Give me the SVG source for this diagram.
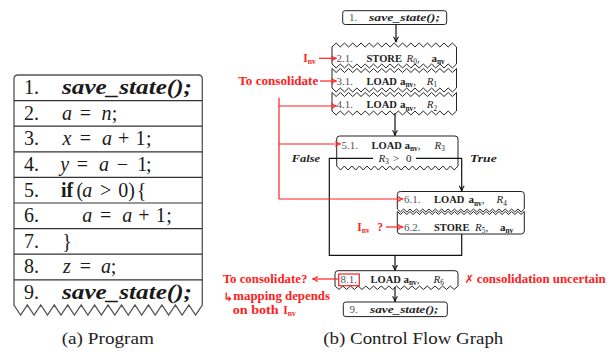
<svg xmlns="http://www.w3.org/2000/svg" width="615" height="354" viewBox="0 0 615 354">
<defs>
<style>
.code{font-family:"Liberation Serif","Times New Roman",serif;font-size:20px;fill:#1a1a1a}
.it{font-style:italic}
.bd{font-weight:bold}
.kw{font-weight:bold;font-size:10.5px}
.bi{font-weight:bold;font-style:italic}
.tbl{fill:#fff;stroke:#555;stroke-width:1.3}
.sep{fill:none;stroke:#333;stroke-width:1.2}
.box{fill:#fff;stroke:#222;stroke-width:1}
.ct{font-family:"Liberation Serif","Times New Roman",serif;font-size:11px;fill:#222}
.num{fill:#555}
.sub{font-size:7.3px}
.edge{fill:none;stroke:#111;stroke-width:1.2}
.redl{fill:none;stroke:#ff2020;stroke-width:1.2}
.rt{font-family:"Liberation Serif","Times New Roman",serif;font-size:11.5px;font-weight:bold;fill:#ff2020}
.rs{font-size:7.5px}
.sym{font-family:"DejaVu Sans",sans-serif}
.cap{font-family:"Liberation Serif","Times New Roman",serif;font-size:17px;fill:#222}
</style>
<marker id="arr" viewBox="0 0 10 10" refX="9" refY="5" markerWidth="7" markerHeight="7" markerUnits="userSpaceOnUse" orient="auto">
<path d="M1.5,1.5 Q5,4 9,5 Q5,6 1.5,8.5" fill="none" stroke="#111" stroke-width="1.6"/>
</marker>
<marker id="arrR" viewBox="0 0 10 10" refX="9" refY="5" markerWidth="7" markerHeight="7" markerUnits="userSpaceOnUse" orient="auto">
<path d="M1.5,1.5 Q5,4 9,5 Q5,6 1.5,8.5" fill="none" stroke="#ff2020" stroke-width="1.6"/>
</marker>
</defs>
<rect width="615" height="354" fill="#fff"/>

<!-- (a) Program table -->
<g id="program">
<path class="tbl" d="M14,306 V79 Q14,75 18,75 H198.3 Q202.3,75 202.3,79 V305 l-6.73,10 l-6.73,-10 l-6.73,10 l-6.73,-10 l-6.73,10 l-6.73,-10 l-6.73,10 l-6.73,-10 l-6.73,10 l-6.73,-10 l-6.73,10 l-6.73,-10 l-6.73,10 l-6.73,-10 l-6.73,10 l-6.73,-10 l-6.73,10 l-6.73,-10 l-6.73,10 l-6.73,-10 l-6.73,10 l-6.73,-10 l-6.73,10 l-6.73,-10 l-6.73,10 l-6.73,-10 l-6.73,10 l-6.73,-10 Z"/>
<path class="sep" d="M14,100.6H202.3 M14,126.2H202.3 M14,151.8H202.3 M14,177.4H202.3 M14,203H202.3 M14,228.6H202.3 M14,254.2H202.3 M14,279.8H202.3"/>
<g id="row1"><text class="code" x="24" y="94.2">1.</text><text class="code bi" x="62" y="94.2" textLength="130" lengthAdjust="spacingAndGlyphs">save_state();</text></g>
<g id="row2"><text class="code" x="24" y="119.8">2.</text><text class="code" y="119.8" text-anchor="middle"><tspan x="67" class="it">a</tspan><tspan x="85.4">=</tspan><tspan x="106.5" class="it">n</tspan><tspan x="114.5">;</tspan></text></g>
<g id="row3"><text class="code" x="24" y="145.4">3.</text><text class="code" y="145.4" text-anchor="middle"><tspan x="67" class="it">x</tspan><tspan x="85.4">=</tspan><tspan x="107" class="it">a</tspan><tspan x="123.7">+</tspan><tspan x="140.4">1</tspan><tspan x="148.7">;</tspan></text></g>
<g id="row4"><text class="code" x="24" y="171">4.</text><text class="code" y="171" text-anchor="middle"><tspan x="64.8" class="it">y</tspan><tspan x="82.3">=</tspan><tspan x="104" class="it">a</tspan><tspan x="122.3">−</tspan><tspan x="142.3">1</tspan><tspan x="148.8">;</tspan></text></g>
<g id="row5"><text class="code" x="24" y="196.6">5.</text><text class="code" y="196.6" text-anchor="middle"><tspan x="67" class="bd">if</tspan><tspan x="79.8">(</tspan><tspan x="87.3" class="it">a</tspan><tspan x="105.7">&gt;</tspan><tspan x="123.2">0</tspan><tspan x="131.5">)</tspan><tspan x="141.5">{</tspan></text></g>
<g id="row6"><text class="code" x="24" y="222.2">6.</text><text class="code" y="222.2" text-anchor="middle"><tspan x="87.3" class="it">a</tspan><tspan x="105.7">=</tspan><tspan x="127.3" class="it">a</tspan><tspan x="144">+</tspan><tspan x="160.7">1</tspan><tspan x="169">;</tspan></text></g>
<g id="row7"><text class="code" x="24" y="247.8">7.</text><text class="code" y="247.8" text-anchor="middle"><tspan x="67">}</tspan></text></g>
<g id="row8"><text class="code" x="24" y="273.4">8.</text><text class="code" y="273.4" text-anchor="middle"><tspan x="66.8" class="it">z</tspan><tspan x="85.4">=</tspan><tspan x="106" class="it">a</tspan><tspan x="113.5">;</tspan></text></g>
<g id="row9"><text class="code" x="24" y="299">9.</text><text class="code bi" x="62" y="299" textLength="130" lengthAdjust="spacingAndGlyphs">save_state();</text></g>
</g>
<text class="cap" x="61.7" y="343.5" textLength="92.3" lengthAdjust="spacingAndGlyphs">(a) Program</text>

<!-- (b) CFG nodes -->
<g id="n1">
<rect class="box" x="342.7" y="10.7" width="104" height="13.8" rx="2.5"/>
<text class="ct num" x="349" y="21.2">1.</text>
<text class="ct bi" x="369" y="21.2" font-size="11.5" textLength="71" lengthAdjust="spacingAndGlyphs">save_state();</text>
</g>
<g id="n2_1">
<path class="box" d="M332,47 l4.15,-4 l4.15,4 l4.15,-4 l4.15,4 l4.15,-4 l4.15,4 l4.15,-4 l4.15,4 l4.15,-4 l4.15,4 l4.15,-4 l4.15,4 l4.15,-4 l4.15,4 l4.15,-4 l4.15,4 l4.15,-4 l4.15,4 l4.15,-4 l4.15,4 l4.15,-4 l4.15,4 l4.15,-4 l4.15,4 l4.15,-4 l4.15,4 l4.15,-4 l4.15,4 l4.15,-4 l4.15,4 V64 l-4.15,4 l-4.15,-4 l-4.15,4 l-4.15,-4 l-4.15,4 l-4.15,-4 l-4.15,4 l-4.15,-4 l-4.15,4 l-4.15,-4 l-4.15,4 l-4.15,-4 l-4.15,4 l-4.15,-4 l-4.15,4 l-4.15,-4 l-4.15,4 l-4.15,-4 l-4.15,4 l-4.15,-4 l-4.15,4 l-4.15,-4 l-4.15,4 l-4.15,-4 l-4.15,4 l-4.15,-4 l-4.15,4 l-4.15,-4 l-4.15,4 l-4.15,-4 Z"/>
<text class="ct" y="61.5"><tspan x="336.5" class="num">2.1.</tspan><tspan x="366.5" class="kw">STORE</tspan><tspan x="406.5" class="it">R</tspan><tspan class="sub" dy="2.5">0</tspan><tspan dy="-2.5">,</tspan><tspan x="431.5" class="bd">a</tspan><tspan class="sub bd" dy="2.5">nv</tspan></text>
</g>
<g id="n3_1">
<path class="box" d="M332,68.5 l4.15,4 l4.15,-4 l4.15,4 l4.15,-4 l4.15,4 l4.15,-4 l4.15,4 l4.15,-4 l4.15,4 l4.15,-4 l4.15,4 l4.15,-4 l4.15,4 l4.15,-4 l4.15,4 l4.15,-4 l4.15,4 l4.15,-4 l4.15,4 l4.15,-4 l4.15,4 l4.15,-4 l4.15,4 l4.15,-4 l4.15,4 l4.15,-4 l4.15,4 l4.15,-4 l4.15,4 l4.15,-4 V88 l-4.15,4 l-4.15,-4 l-4.15,4 l-4.15,-4 l-4.15,4 l-4.15,-4 l-4.15,4 l-4.15,-4 l-4.15,4 l-4.15,-4 l-4.15,4 l-4.15,-4 l-4.15,4 l-4.15,-4 l-4.15,4 l-4.15,-4 l-4.15,4 l-4.15,-4 l-4.15,4 l-4.15,-4 l-4.15,4 l-4.15,-4 l-4.15,4 l-4.15,-4 l-4.15,4 l-4.15,-4 l-4.15,4 l-4.15,-4 l-4.15,4 l-4.15,-4 Z"/>
<text class="ct" y="84.5"><tspan x="336.5" class="num">3.1.</tspan><tspan x="366.5" class="kw">LOAD</tspan><tspan x="400" class="bd">a</tspan><tspan class="sub bd" dy="2.5">nv</tspan><tspan dy="-2.5">,</tspan><tspan x="426.7" class="it">R</tspan><tspan class="sub" dy="2.5">1</tspan></text>
</g>
<g id="n4_1">
<path class="box" d="M332,92.5 l4.15,4 l4.15,-4 l4.15,4 l4.15,-4 l4.15,4 l4.15,-4 l4.15,4 l4.15,-4 l4.15,4 l4.15,-4 l4.15,4 l4.15,-4 l4.15,4 l4.15,-4 l4.15,4 l4.15,-4 l4.15,4 l4.15,-4 l4.15,4 l4.15,-4 l4.15,4 l4.15,-4 l4.15,4 l4.15,-4 l4.15,4 l4.15,-4 l4.15,4 l4.15,-4 l4.15,4 l4.15,-4 V111 l-4.15,4 l-4.15,-4 l-4.15,4 l-4.15,-4 l-4.15,4 l-4.15,-4 l-4.15,4 l-4.15,-4 l-4.15,4 l-4.15,-4 l-4.15,4 l-4.15,-4 l-4.15,4 l-4.15,-4 l-4.15,4 l-4.15,-4 l-4.15,4 l-4.15,-4 l-4.15,4 l-4.15,-4 l-4.15,4 l-4.15,-4 l-4.15,4 l-4.15,-4 l-4.15,4 l-4.15,-4 l-4.15,4 l-4.15,-4 l-4.15,4 l-4.15,-4 Z"/>
<text class="ct" y="108"><tspan x="336.5" class="num">4.1.</tspan><tspan x="366.5" class="kw">LOAD</tspan><tspan x="400" class="bd">a</tspan><tspan class="sub bd" dy="2.5">nv</tspan><tspan dy="-2.5">,</tspan><tspan x="426.7" class="it">R</tspan><tspan class="sub" dy="2.5">2</tspan></text>
</g>
<g id="n5_1">
<path class="box" d="M336.7,166 V139 Q336.7,136 339.7,136 H455 Q458,136 458,139 V166 l-3.79,4 l-3.79,-4 l-3.79,4 l-3.79,-4 l-3.79,4 l-3.79,-4 l-3.79,4 l-3.79,-4 l-3.79,4 l-3.79,-4 l-3.79,4 l-3.79,-4 l-3.79,4 l-3.79,-4 l-3.79,4 l-3.79,-4 l-3.79,4 l-3.79,-4 l-3.79,4 l-3.79,-4 l-3.79,4 l-3.79,-4 l-3.79,4 l-3.79,-4 l-3.79,4 l-3.79,-4 l-3.79,4 l-3.79,-4 l-3.79,4 l-3.79,-4 l-3.79,4 l-3.79,-4 Z"/>
<text class="ct" y="148.5"><tspan x="341.5" class="num">5.1.</tspan><tspan x="371.5" class="kw">LOAD</tspan><tspan x="404.5" class="bd">a</tspan><tspan class="sub bd" dy="2.5">nv</tspan><tspan dy="-2.5">,</tspan><tspan x="434.5" class="it">R</tspan><tspan class="sub" dy="2.5">3</tspan></text>
<text class="ct" y="161.5"><tspan x="378.5" class="it">R</tspan><tspan class="sub" dy="2.5">3</tspan><tspan x="393" dy="-2.5">&gt;</tspan><tspan x="406">0</tspan></text>
</g>
<g id="n6_1">
<path class="box" d="M397.3,209 V194.5 Q397.3,191.5 400.3,191.5 H521.3 Q524.3,191.5 524.3,194.5 V209 l-3.175,3 l-3.175,-3 l-3.175,3 l-3.175,-3 l-3.175,3 l-3.175,-3 l-3.175,3 l-3.175,-3 l-3.175,3 l-3.175,-3 l-3.175,3 l-3.175,-3 l-3.175,3 l-3.175,-3 l-3.175,3 l-3.175,-3 l-3.175,3 l-3.175,-3 l-3.175,3 l-3.175,-3 l-3.175,3 l-3.175,-3 l-3.175,3 l-3.175,-3 l-3.175,3 l-3.175,-3 l-3.175,3 l-3.175,-3 l-3.175,3 l-3.175,-3 l-3.175,3 l-3.175,-3 l-3.175,3 l-3.175,-3 l-3.175,3 l-3.175,-3 l-3.175,3 l-3.175,-3 l-3.175,3 l-3.175,-3 Z"/>
<text class="ct" y="203"><tspan x="404" class="num">6.1.</tspan><tspan x="434" class="kw">LOAD</tspan><tspan x="468.5" class="bd">a</tspan><tspan class="sub bd" dy="2.5">nv</tspan><tspan dy="-2.5">,</tspan><tspan x="496.5" class="it">R</tspan><tspan class="sub" dy="2.5">4</tspan></text>
</g>
<g id="n6_2">
<path class="box" d="M397.3,211.5 l3.175,3 l3.175,-3 l3.175,3 l3.175,-3 l3.175,3 l3.175,-3 l3.175,3 l3.175,-3 l3.175,3 l3.175,-3 l3.175,3 l3.175,-3 l3.175,3 l3.175,-3 l3.175,3 l3.175,-3 l3.175,3 l3.175,-3 l3.175,3 l3.175,-3 l3.175,3 l3.175,-3 l3.175,3 l3.175,-3 l3.175,3 l3.175,-3 l3.175,3 l3.175,-3 l3.175,3 l3.175,-3 l3.175,3 l3.175,-3 l3.175,3 l3.175,-3 l3.175,3 l3.175,-3 l3.175,3 l3.175,-3 l3.175,3 l3.175,-3 V231 Q524.3,234 521.3,234 H400.3 Q397.3,234 397.3,231 Z"/>
<text class="ct" y="230.5"><tspan x="404" class="num">6.2.</tspan><tspan x="434" class="kw">STORE</tspan><tspan x="475" class="it">R</tspan><tspan class="sub" dy="2.5">5</tspan><tspan dy="-2.5">,</tspan><tspan x="500" class="bd">a</tspan><tspan class="sub bd" dy="2.5">nv</tspan></text>
</g>
<g id="n8_1">
<path class="box" d="M335,286 V273.7 Q335,270.7 338,270.7 H455 Q458,270.7 458,273.7 V286 l-3.84,3.5 l-3.84,-3.5 l-3.84,3.5 l-3.84,-3.5 l-3.84,3.5 l-3.84,-3.5 l-3.84,3.5 l-3.84,-3.5 l-3.84,3.5 l-3.84,-3.5 l-3.84,3.5 l-3.84,-3.5 l-3.84,3.5 l-3.84,-3.5 l-3.84,3.5 l-3.84,-3.5 l-3.84,3.5 l-3.84,-3.5 l-3.84,3.5 l-3.84,-3.5 l-3.84,3.5 l-3.84,-3.5 l-3.84,3.5 l-3.84,-3.5 l-3.84,3.5 l-3.84,-3.5 l-3.84,3.5 l-3.84,-3.5 l-3.84,3.5 l-3.84,-3.5 l-3.84,3.5 l-3.84,-3.5 Z"/>
<text class="ct" y="282.5"><tspan x="340.5" class="num">8.1.</tspan><tspan x="370.5" class="kw">LOAD</tspan><tspan x="403.5" class="bd">a</tspan><tspan class="sub bd" dy="2.5">nv</tspan><tspan dy="-2.5">,</tspan><tspan x="433.5" class="it">R</tspan><tspan class="sub" dy="2.5">6</tspan></text>
</g>
<g id="n9">
<rect class="box" x="343.3" y="302" width="104" height="14.6" rx="2.5"/>
<text class="ct num" x="349.5" y="313">9.</text>
<text class="ct bi" x="370" y="313" font-size="11.5" textLength="68.5" lengthAdjust="spacingAndGlyphs">save_state();</text>
</g>

<!-- connectors -->
<g id="connectors">
<path class="edge" d="M396,24.5 V42" marker-end="url(#arr)"/>
<path class="edge" d="M395,113 V135.5" marker-end="url(#arr)"/>
<path class="edge" d="M416,158.3 H461.7 V191" marker-end="url(#arr)"/>
<path class="edge" d="M373,158.3 H329.3 V255.3 H461.7 V234"/>
<path class="edge" d="M395,255.3 V270.3" marker-end="url(#arr)"/>
<path class="edge" d="M395,287 V301.5" marker-end="url(#arr)"/>
<text class="ct bi" x="291.7" y="161.8" font-size="11.5" textLength="28.3" lengthAdjust="spacingAndGlyphs">False</text>
<text class="ct bi" x="470" y="161.8" font-size="11.5" textLength="26.7" lengthAdjust="spacingAndGlyphs">True</text>
</g>

<!-- red annotations -->
<g id="annotations">
<text class="rt" x="303.3" y="61.7">I<tspan class="rs" dy="2">nv</tspan></text>
<path class="redl" d="M319,58.3 H336.5" marker-end="url(#arrR)"/>
<text class="rt" x="238.3" y="84.7" textLength="80" lengthAdjust="spacingAndGlyphs">To consolidate</text>
<path class="redl" d="M320,81 H336.5" marker-end="url(#arrR)"/>
<path class="redl" d="M279,97.7 V199 H403" marker-end="url(#arrR)"/>
<path class="redl" d="M279,106 H336.5" marker-end="url(#arrR)"/>
<path class="redl" d="M279,144 H340.5" marker-end="url(#arrR)"/>
<text class="rt" x="357.3" y="231.2">I<tspan class="rs" dy="2">nv</tspan><tspan x="377.3" dy="-2">?</tspan></text>
<path class="redl" d="M386,227 H403" marker-end="url(#arrR)"/>
<rect class="redl" x="338.7" y="274" width="20.6" height="11.7"/>
<path class="redl" d="M338.7,279 H312.5" marker-end="url(#arrR)"/>
<text class="rt" x="222.7" y="282.5" textLength="84.6" lengthAdjust="spacingAndGlyphs">To consolidate?</text>
<text class="rt sym" x="223.5" y="300.5" font-size="12.5" font-weight="normal">↳</text>
<text class="rt" x="233.3" y="299.7" textLength="96.7" lengthAdjust="spacingAndGlyphs">mapping depends</text>
<text class="rt" x="232.7" y="313.7" textLength="46" lengthAdjust="spacingAndGlyphs">on both</text>
<text class="rt" x="283.3" y="313.7">I<tspan class="rs" dy="2">nv</tspan></text>
<text class="rt sym" x="464.5" y="282.7" font-size="11.5">✗</text>
<text class="rt" x="476.7" y="282.7" textLength="129" lengthAdjust="spacingAndGlyphs">consolidation uncertain</text>
</g>
<text class="cap" x="323.3" y="343.5" textLength="180" lengthAdjust="spacingAndGlyphs">(b) Control Flow Graph</text>
</svg>
